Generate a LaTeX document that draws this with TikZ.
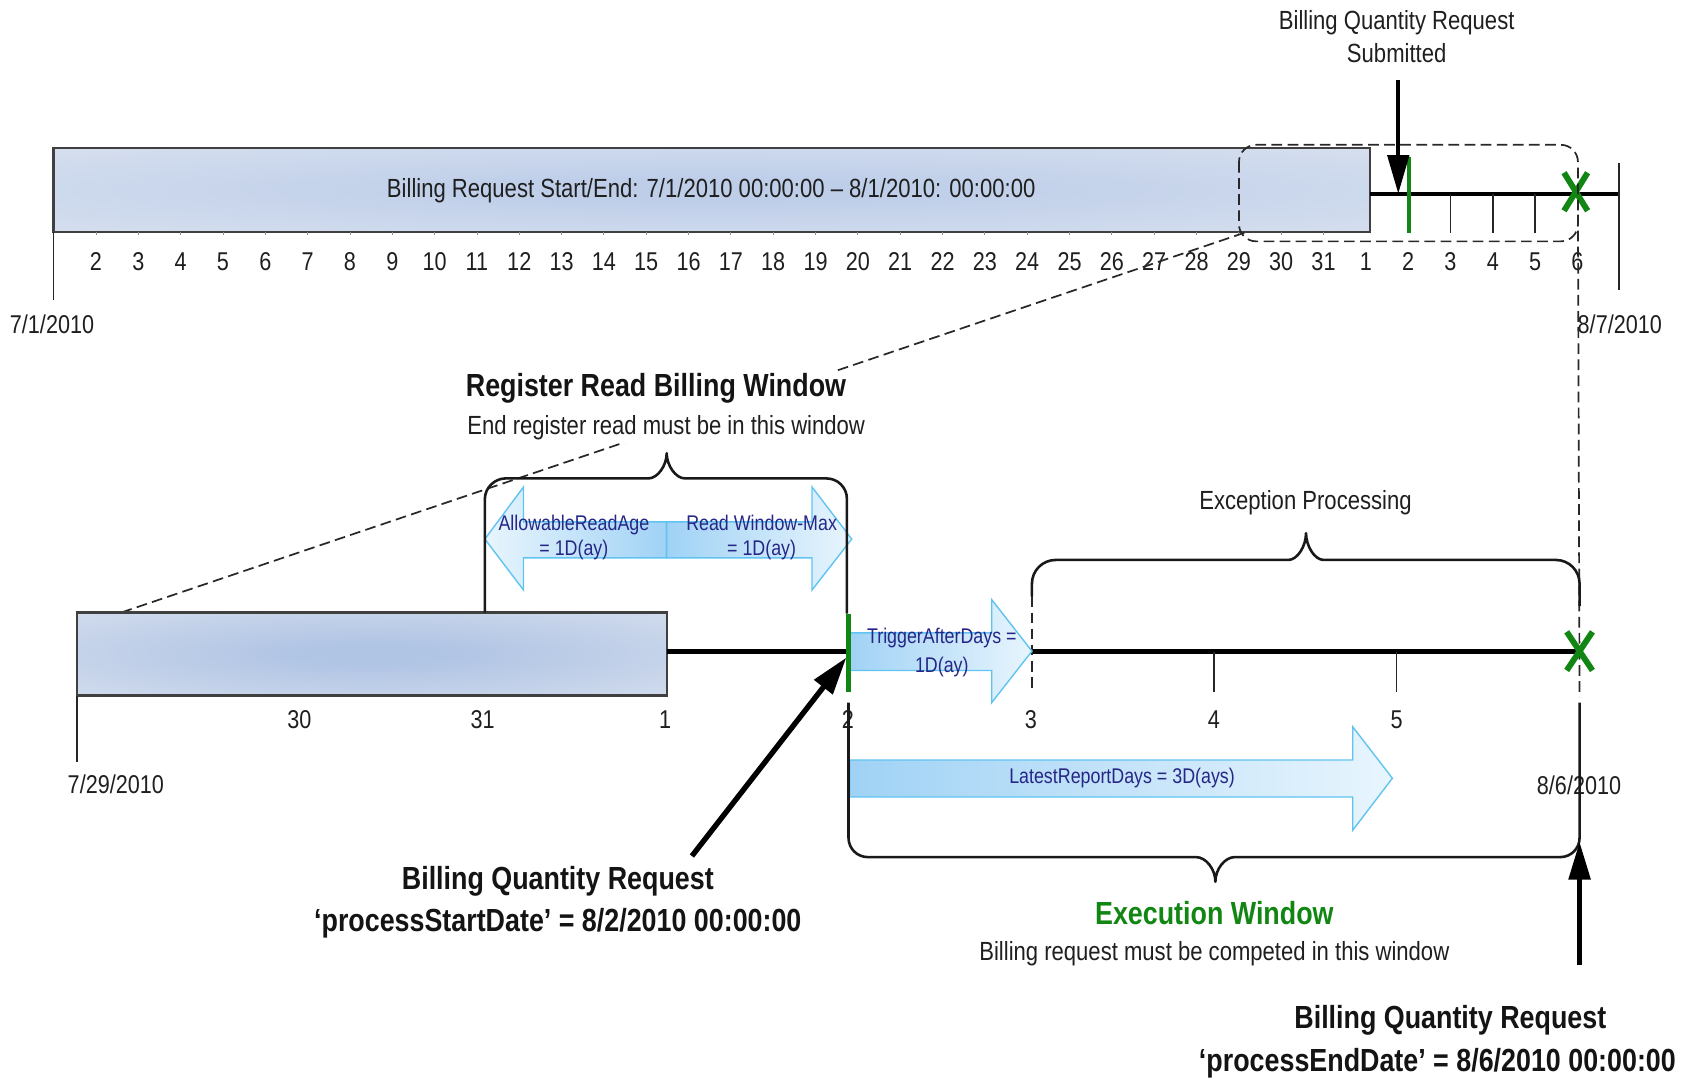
\documentclass[tikz,border=0pt]{standalone}
\usepackage{fontspec}
\setmainfont{Liberation Sans}[FakeStretch=0.84]
\usetikzlibrary{arrows.meta}

\definecolor{boxInTop}{RGB}{190,206,233}
\definecolor{boxInBot}{RGB}{176,196,228}
\definecolor{boxOut}{RGB}{225,231,241}
\definecolor{boxEdge}{RGB}{64,64,64}
\definecolor{arrDark}{RGB}{160,210,245}
\definecolor{arrLight}{RGB}{232,245,253}
\definecolor{arrEdge}{RGB}{96,196,242}
\definecolor{navy}{RGB}{38,38,135}
\definecolor{okgreen}{RGB}{18,134,18}
\definecolor{dashgray}{RGB}{40,40,40}

\pgfdeclareradialshading{topglow}{\pgfpointorigin}{color(0bp)=(boxInTop); color(6bp)=(boxInTop); color(50bp)=(boxOut)}
\pgfdeclareradialshading{botglow}{\pgfpointorigin}{color(0bp)=(boxInBot); color(6bp)=(boxInBot); color(50bp)=(boxOut)}

\tikzset{
  reg/.style={font=\fontsize{24.5}{31}\selectfont, text=black!88, inner sep=1pt},
  daylbl/.style={font=\fontsize{24}{28}\selectfont, text=black!88, inner sep=1pt},
  boldtxt/.style={font=\fontsize{29.8}{38.5}\selectfont\bfseries, text=black!92, inner sep=1pt, align=center},
  bluetxt/.style={font=\fontsize{19.8}{23.3}\selectfont, text=navy, inner sep=1pt, align=center},
  timeline/.style={line width=3.5, black},
  daytick/.style={line width=1.5, black!85},
  zoomdash/.style={dashgray, line width=1.6, dash pattern=on 10pt off 5pt},
  bracepath/.style={line width=2.4, line join=round, black!90},
  blockarrow/.style={draw=arrEdge, line width=1.3},
  greenmark/.style={okgreen, line width=5.5},
  callout/.style={-{Triangle[length=35pt,width=21pt]}, line width=4, black},
  timebox/.style={draw=boxEdge, line width=2.2},
}

\begin{document}
\begin{tikzpicture}[x=1pt,y=-1pt]
\useasboundingbox (0,0) rectangle (1568,1007);
\fill[white] (0,0) rectangle (1568,1007);

% ---------- full billing period: July 1 .. August 7 ----------
\shadedraw[timebox, shading=topglow] (50,138) rectangle (1277,216.5);
\node[reg] (period) at (663,178) {Billing Request Start/End: 7/1/2010 00:00:00 – 8/1/2010: 00:00:00};
\foreach \k in {1,...,30}
  \draw[black!45, line width=0.8] ({50+\k*39.46},216.5) -- ({50+\k*39.46},219.5);
\draw[daytick] (50,216.5) -- (50,280);
\draw[timeline] (1277,180.5) -- (1509.5,180.5);
\draw[daytick] (1509.5,152) -- (1509.5,270);
\foreach \k in {33,34,35}
  \draw[daytick] ({50+\k*39.46},180.5) -- ({50+\k*39.46},217);
\draw[okgreen, line width=3.5] (1313.5,146) -- (1313.5,217);
\draw[greenmark] (1458,161) -- (1480,196.5) (1458,196.5) -- (1480,161);

\foreach \k in {1,...,36}{
  \pgfmathtruncatemacro\d{\k<31 ? \k+1 : \k-30}
  \node[daylbl] (top\k) at ({50+\k*39.46},244) {\d};
}
\node[daylbl] (jul1) at (48.5,302) {7/1/2010};
\node[daylbl] (aug7) at (1510,302) {8/7/2010};

% request submitted marker
\node[reg, align=center] (submitted) at (1302,34) {Billing Quantity Request\\Submitted};
\coordinate (subTail) at (1303.5,75);
\coordinate (subTip) at (1303.5,180.5);
\draw[callout, line width=3.5, -{Triangle[length=36pt,width=20pt]}] (subTail) -- (subTip);

% zoomed-in region and its guide lines
\draw[zoomdash, rounded corners=16] (1155,135) rectangle (1471,225);
\coordinate (zoomA) at (1160,217);
\coordinate (zoomB) at (113,571);
\draw[zoomdash] (zoomA) -- (zoomB);
\coordinate (zoomC) at (1471,200);
\coordinate (zoomD) at (1472.5,650);
\draw[zoomdash] (zoomC) -- (zoomD);

% ---------- detail: July 29 .. August 6 ----------
\shadedraw[timebox, shading=botglow] (72,571) rectangle (622,648.5);
\draw[daytick] (72,648.5) -- (72,710);
\draw[line width=5, black] (622,607.5) -- (1472.5,607.5);
\draw[daytick] (1131.5,607.5) -- (1131.5,645);
\draw[daytick] (1302,607.5) -- (1302,645);
\draw[zoomdash] (962,556) -- (962,645);

\foreach \x/\d [count=\i] in {279/30,450/31,620/1,790.5/2,961/3,1131.5/4,1302/5}
  \node[daylbl] (bot\i) at (\x,671) {\d};
\node[daylbl] (jul29) at (108,731) {7/29/2010};
\node[daylbl] (aug6) at (1472,732) {8/6/2010};

% register read window: two block arrows meeting at the read date
\draw[blockarrow, left color=arrLight, right color=arrDark]
  (621.5,486.5) -- (488,486.5) -- (488,454) -- (452,502.5) -- (488,550) -- (488,520) -- (621.5,520) -- cycle;
\draw[blockarrow, left color=arrDark, right color=arrLight]
  (621.5,486.5) -- (757,486.5) -- (757,454) -- (794,502.5) -- (757,550) -- (757,520) -- (621.5,520) -- cycle;
\node[bluetxt] (readAge) at (535,501) {AllowableReadAge\\= 1D(ay)};
\node[bluetxt] (readMax) at (710,501) {Read Window-Max\\= 1D(ay)};

% trigger and latest-report arrows
\draw[blockarrow, left color=arrDark, right color=arrLight]
  (792,590) -- (924.5,590) -- (924.5,559) -- (962,607) -- (924.5,655) -- (924.5,625) -- (792,625) -- cycle;
\node[bluetxt, font=\fontsize{19.8}{26.6}\selectfont] (trigger) at (878,608.5) {TriggerAfterDays =\\1D(ay)};
\draw[blockarrow, left color=arrDark, right color=arrLight]
  (792,708.5) -- (1261,708.5) -- (1261,677.5) -- (1298,725.5) -- (1261,774) -- (1261,743) -- (792,743) -- cycle;
\node[bluetxt] (latest) at (1046,725) {LatestReportDays = 3D(ays)};

% process start marker and end marker
\draw[okgreen, line width=4] (791,572) -- (791,645);
\draw[greenmark] (1460.5,589) -- (1484.5,625) (1460.5,625) -- (1484.5,589);

% braces
\draw[bracepath] (452,571) -- (452,465) .. controls (452,454.5) and (461.5,446) .. (471,446)
  -- (604.5,446) .. controls (613,446) and (621.5,434) .. (621.5,422.5)
  .. controls (621.5,434) and (630,446) .. (638.5,446)
  -- (770.5,446) .. controls (781,446) and (789.5,454.5) .. (789.5,465) -- (789.5,572);
\draw[bracepath] (962,556) -- (962,544) .. controls (962,531.9) and (971.9,522) .. (984,522)
  -- (1201,522) .. controls (1209.5,522) and (1217.5,509) .. (1217.5,497)
  .. controls (1217.5,509) and (1225.5,522) .. (1234,522)
  -- (1450.5,522) .. controls (1462.6,522) and (1472.5,531.9) .. (1472.5,544) -- (1472.5,565);
\draw[bracepath] (791,655) -- (791,781) .. controls (791,791) and (799,799) .. (809,799)
  -- (1115,799) .. controls (1124,799) and (1133,810) .. (1133,822)
  .. controls (1133,810) and (1142,799) .. (1151,799)
  -- (1454.5,799) .. controls (1464.5,799) and (1472.5,791) .. (1472.5,781) -- (1472.5,655);

% window titles
\fill[white] (433,346) rectangle (810,413);
\node[boldtxt] (rrwTitle) at (611.5,362) {Register Read Billing Window};
\node[reg] (rrwNote) at (621,399) {End register read must be in this window};
\node[reg] (exception) at (1217,469) {Exception Processing};
\node[boldtxt, text=okgreen] (execTitle) at (1132,851) {Execution Window};
\node[reg] (execNote) at (1132,889) {Billing request must be competed in this window};

% process date callouts
\node[boldtxt] (startReq) at (520,841) {Billing Quantity Request\\‘processStartDate’ = 8/2/2010 00:00:00};
\coordinate (startTail) at (645,798);
\coordinate (startTip) at (789,613);
\draw[callout, line width=5] (startTail) -- (startTip);

\node[boldtxt] (endReqTitle) at (1352,951) {Billing Quantity Request};
\node[boldtxt] (endReqDate) at (1340,991) {‘processEndDate’ = 8/6/2010 00:00:00};
\coordinate (endTail) at (1472.5,900);
\coordinate (endTip) at (1472.5,785);
\draw[callout, -{Triangle[length=35pt,width=20pt]}] (endTail) -- (endTip);

\end{tikzpicture}
\end{document}
